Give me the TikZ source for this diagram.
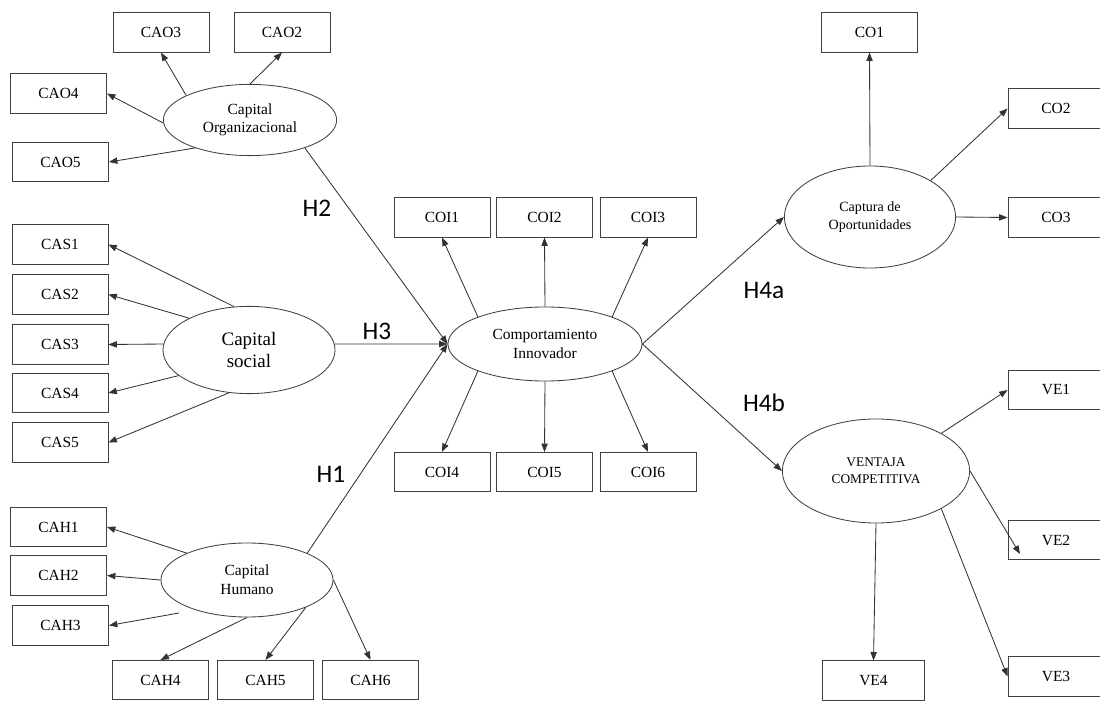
\documentclass[tikz,border=0pt]{standalone}
\usepackage{fontspec}
\setmainfont{Liberation Serif}
\newfontfamily\hfont{Carlito}
\usepackage{tikz}
\usetikzlibrary{shapes.geometric, arrows.meta}
\tikzset{
	ind/.style ={rectangle, draw=black!75, line width=0.6pt, minimum width=2.4cm, minimum height=0.98cm, inner sep=1pt, font=\fontsize{11}{12}\selectfont},
	lat/.style ={ellipse, draw=black!75, line width=0.6pt, inner sep=0pt, align=center, font=\fontsize{11}{13}\selectfont},
	load/.style={-{Triangle[length=6pt, width=4.5pt]}, line width=0.6pt, black!80},
	hyp/.style ={font=\hfont\fontsize{18}{20}\selectfont},
}

\begin{document}
\begin{tikzpicture}[x=0.025cm, y=-0.025cm]
	\useasboundingbox (0,0) rectangle (1100,701);
	\clip (0,0) rectangle (1100,701);
	% constructs
	\node[lat, minimum width=4.33cm, minimum height=1.78cm] (cao) at (250,120) {Capital\\ Organizacional};
	\node[lat, minimum width=4.3cm, minimum height=2.18cm, font=\fontsize{13.5}{15.5}\selectfont] (cas) at (249,350) {Capital\\ social};
	\node[lat, minimum width=4.3cm, minimum height=1.85cm, font=\fontsize{11}{13.5}\selectfont] (cah) at (247,580) {Capital\\ Humano};
	\node[lat, minimum width=4.85cm, minimum height=1.85cm] (coi) at (545,344) {Comportamiento\\ Innovador};
	\node[lat, minimum width=4.28cm, minimum height=2.55cm, font=\fontsize{10}{13}\selectfont] (co) at (870,217) {Captura de\\ Oportunidades};
	\node[lat, minimum width=4.68cm, minimum height=2.6cm, font=\fontsize{9.5}{12}\selectfont] (ve) at (876,471) {VENTAJA\\ COMPETITIVA};
	% indicators
	\node[ind] (cao3) at (161,32.5) {CAO3};
	\node[ind] (cao2) at (282,32.5) {CAO2};
	\node[ind] (cao4) at (58.5,93.5) {CAO4};
	\node[ind] (cao5) at (60.5,162) {CAO5};
	\node[ind] (cas1) at (60,244.5) {CAS1};
	\node[ind] (cas2) at (60,294.5) {CAS2};
	\node[ind] (cas3) at (60,344.5) {CAS3};
	\node[ind] (cas4) at (60,393) {CAS4};
	\node[ind] (cas5) at (60,442.5) {CAS5};
	\node[ind] (cah1) at (58.5,527) {CAH1};
	\node[ind] (cah2) at (58.5,575.5) {CAH2};
	\node[ind] (cah3) at (60.5,625.5) {CAH3};
	\node[ind] (cah4) at (160.5,680) {CAH4};
	\node[ind] (cah5) at (265.5,680) {CAH5};
	\node[ind] (cah6) at (370.5,680) {CAH6};
	\node[ind] (coi1) at (442,217.5) {COI1};
	\node[ind] (coi2) at (544.5,217.5) {COI2};
	\node[ind] (coi3) at (648,217.5) {COI3};
	\node[ind] (coi4) at (442,472) {COI4};
	\node[ind] (coi5) at (544.5,472) {COI5};
	\node[ind] (coi6) at (648,472) {COI6};
	\node[ind] (co1) at (869.5,32.5) {CO1};
	\node[ind] (co2) at (1056,108.5) {CO2};
	\node[ind] (co3) at (1056,217.5) {CO3};
	\node[ind] (ve1) at (1056,390) {VE1};
	\node[ind] (ve2) at (1056,540) {VE2};
	\node[ind] (ve3) at (1056,676.5) {VE3};
	\node[ind, minimum width=2.55cm] (ve4) at (873.5,680.5) {VE4};
	\coordinate (cah3s) at (179,613);
	\coordinate (ve2e) at (1020,554);
	% loadings
	\draw[load] (cao.159) -- (cao3.south);
	\draw[load] (cao.north) -- (cao2.south);
	\draw[load] (cao.182) -- (cao4.east);
	\draw[load] (cao.207) -- (cao5.east);
	\draw[load] (cas.109) -- (cas1.east);
	\draw[load] (cas.152) -- (cas2.east);
	\draw[load] (cas.176) -- (cas3.east);
	\draw[load] (cas.200) -- (cas4.east);
	\draw[load] (cas.245) -- (cas5.east);
	\draw[load] (cah.156) -- (cah1.east);
	\draw[load] (cah.west) -- (cah2.east);
	\draw[load] (cah3s) -- (cah3.east);
	\draw[load] (cah.south) -- (cah4.north);
	\draw[load] (cah.335) -- (cah5.north);
	\draw[load] (cah.east) -- (cah6.north);
	\draw[load] (coi.158) -- (coi1.south);
	\draw[load] (coi.north) -- (coi2.south);
	\draw[load] (coi.22) -- (coi3.south);
	\draw[load] (coi.202) -- (coi4.north);
	\draw[load] (coi.south) -- (coi5.north);
	\draw[load] (coi.338) -- (coi6.north);
	\draw[load] (co.north) -- (co1.south);
	\draw[load] (co.31) -- (co2.west);
	\draw[load] (co.east) -- (co3.west);
	\draw[load] (ve.30) -- (ve1.west);
	\draw[load] (ve.east) -- (ve2e);
	\draw[load] (ve.330) -- (ve3.west);
	\draw[load] (ve.south) -- (ve4.north);
	% hypotheses
	\draw[load] (cao.333) -- (coi.west);
	\draw[load] (cas.4) -- (coi.west);
	\draw[load] (cah.24) -- (coi.west);
	\draw[load] (coi.east) -- (co.west);
	\draw[load] (coi.east) -- (ve.west);
	\node[hyp] (h2) at (317,208) {H2};
	\node[hyp] (h3) at (377,331) {H3};
	\node[hyp] (h1) at (331,474) {H1};
	\node[hyp] (h4a) at (764,290) {H4a};
	\node[hyp] (h4b) at (764,403) {H4b};
\end{tikzpicture}
\end{document}
